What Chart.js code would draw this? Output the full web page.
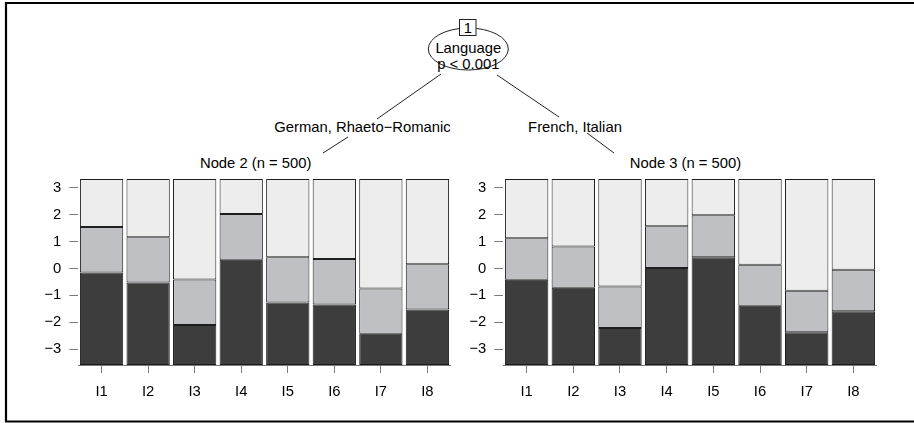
<!DOCTYPE html>
<html>
<head>
<meta charset="utf-8">
<script src="https://cdn.jsdelivr.net/npm/chart.js@4"></script>
<style>
  html, body { margin: 0; padding: 0; background: #fff; }
  #wrap { position: relative; width: 914px; height: 423px; overflow: hidden; }
  #tree { position: absolute; left: 0; top: 0; }
  .panel { position: absolute; top: 162px; width: 425px; height: 248px; }
  #p1 { left: 30px; }
  #p2 { left: 455px; }
</style>
</head>
<body>
<div id="wrap">
  <svg id="tree" width="914" height="423" font-family="'Liberation Sans', Arial, sans-serif" font-size="14.8" fill="#000">
    <!-- cadre -->
    <line x1="5" y1="3" x2="914" y2="3" stroke="#000" stroke-width="2.2"/>
    <line x1="6" y1="2" x2="6" y2="422" stroke="#000" stroke-width="2.2"/>
    <line x1="5" y1="421.5" x2="914" y2="421.5" stroke="#000" stroke-width="2"/>
    <!-- arêtes -->
    <g stroke="#222" stroke-width="1">
      <line x1="441" y1="74" x2="377" y2="119"/>
      <line x1="348" y1="137" x2="323" y2="153"/>
      <line x1="497" y1="75" x2="559" y2="117"/>
      <line x1="587" y1="133" x2="614" y2="153"/>
    </g>
    <!-- noeud interne -->
    <ellipse cx="468.3" cy="49" rx="40" ry="21" fill="#fff" stroke="#222" stroke-width="1"/>
    <rect x="459.5" y="19.5" width="16.5" height="16" fill="#fff" stroke="#222" stroke-width="1"/>
    <g text-anchor="middle" dominant-baseline="central">
      <text x="467.8" y="27.5">1</text>
      <text x="468.3" y="47.5">Language</text>
      <text x="468.3" y="63.5">p &lt; 0.001</text>
      <text x="362.5" y="127">German, Rhaeto−Romanic</text>
      <text x="575" y="127">French, Italian</text>
      <text x="255.7" y="162.5">Node 2 (n = 500)</text>
      <text x="685.5" y="162.5">Node 3 (n = 500)</text>
    </g>
  </svg>
  <div class="panel" id="p1"><canvas id="c1"></canvas></div>
  <div class="panel" id="p2"><canvas id="c2"></canvas></div>
</div>

<script>
// items et seuils (frontières entre catégories)
const items = ['I1', 'I2', 'I3', 'I4', 'I5', 'I6', 'I7', 'I8'];
const node2Lower = [-0.15, -0.52, -2.10, 0.32, -1.27, -1.34, -2.43, -1.53];
const node2Upper = [1.54, 1.16, -0.41, 2.02, 0.42, 0.35, -0.75, 0.16];
const node3Lower = [-0.42, -0.72, -2.21, 0.02, 0.42, -1.39, -2.37, -1.59];
const node3Upper = [1.12, 0.82, -0.67, 1.57, 1.98, 0.14, -0.83, -0.05];
const yTicks = [-3, -2, -1, 0, 1, 2, 3];
const yMin = -3.59;
const yMax = 3.33;

const COLORS = { low: '#3d3d3d', mid: '#bfc0c3', high: '#ededed', border: '#1e1e1e', axis: '#7a7a7a' };
const FONT = { family: "'Liberation Sans', Arial, sans-serif", size: 14.8 };

function render(canvasId, lower, upper, padRight) {
  const ds = (label, data, color) => ({
    label,
    data,
    backgroundColor: color,
    borderColor: COLORS.border,
    borderWidth: 1,
    borderSkipped: false,
    barPercentage: 0.93,
    categoryPercentage: 1,
  });

  return new Chart(document.getElementById(canvasId), {
    type: 'bar',
    data: {
      labels: items,
      datasets: [
        ds('bas', lower.map(v => [yMin, v]), COLORS.low),
        ds('milieu', lower.map((v, i) => [v, upper[i]]), COLORS.mid),
        ds('haut', upper.map(v => [v, yMax]), COLORS.high),
      ]
    },
    options: {
      responsive: true,
      maintainAspectRatio: false,
      animation: false,
      layout: { padding: { top: 0, right: padRight, left: 0, bottom: 0 } },
      plugins: { legend: { display: false }, tooltip: { enabled: false } },
      scales: {
        x: {
          stacked: true,
          afterFit: s => { s.height = 45; },
          border: { display: true, color: COLORS.axis },
          grid: { offset: false, drawOnChartArea: false, drawTicks: true, tickLength: 8, color: COLORS.axis },
          ticks: { color: '#000', font: FONT, padding: 10, maxRotation: 0 },
        },
        y: {
          min: yMin,
          max: yMax,
          afterFit: s => { s.width = 48.3; },
          afterBuildTicks: s => { s.ticks = yTicks.map(v => ({ value: v })); },
          border: { display: false },
          grid: { drawOnChartArea: false, drawTicks: true, tickLength: 9, color: COLORS.axis },
          ticks: {
            color: '#000',
            font: FONT,
            padding: 8,
            callback: v => (v < 0 ? '\u2212' + Math.abs(v) : String(v)),
          },
        }
      }
    }
  });
}

render('c1', node2Lower, node2Upper, 4.3);
render('c2', node3Lower, node3Upper, 3.3);
</script>
</body>
</html>
